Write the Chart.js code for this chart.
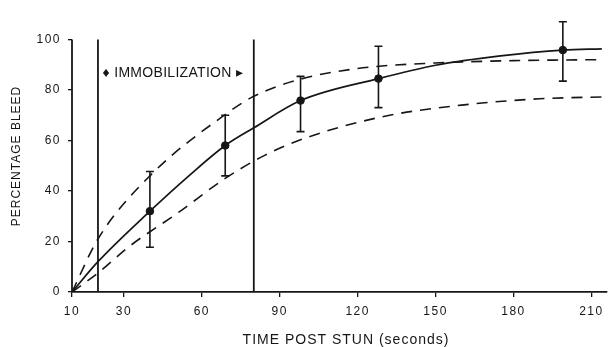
<!DOCTYPE html>
<html>
<head>
<meta charset="utf-8">
<script src="https://cdn.jsdelivr.net/npm/chart.js@4.4.1/dist/chart.umd.min.js"></script>
<style>
  html, body { margin: 0; padding: 0; background: #fff; }
  #wrap { width: 612px; height: 347px; }
</style>
</head>
<body>
<div id="wrap"><canvas id="bleedChart"></canvas></div>
<script>
const timeTicks = [10, 30, 60, 90, 120, 150, 180, 210];
const bleedTicks = [0, 20, 40, 60, 80, 100];

// measured points with their error bars
const sampleTimes = [40, 69, 98, 128, 199];
const sampleMean = [32, 58, 75.8, 84.5, 95.8];
const sampleLow = [17.7, 46, 63.5, 73, 83.5];
const sampleHigh = [47.7, 70, 85.4, 97.3, 107];

// fitted curve (solid)
const fitTimes = [10, 20, 40, 55, 69, 80, 98, 128, 150, 175, 199, 214];
const fitBleed = [0, 12, 32, 46, 58, 65, 75.8, 84.5, 89.8, 93.5, 95.8, 96.3];

// dashed bounds
const upperTimes = [10, 20, 40, 70, 80, 97, 120, 150, 180, 213];
const upperBleed = [0, 21, 46, 71, 77.5, 84, 88.5, 90.7, 91.6, 92];
const lowerTimes = [10, 20, 32, 51, 69, 84, 100, 130, 160, 190, 216];
const lowerBleed = [0, 7.5, 18, 31.5, 45, 54, 61, 69.5, 74, 76.5, 77.3];

// immobilization period (seconds)
const immobilization = [20, 80];
const immobilizationTop = 100;

const ink = "#161616";
const pts = (xs, ys) => xs.map((x, i) => ({ x: x, y: ys[i] }));

const errorBars = {
  id: "errorBars",
  afterDatasetsDraw(chart) {
    const { ctx, scales: { x, y } } = chart;
    ctx.save();
    ctx.strokeStyle = ink;
    ctx.lineWidth = 1.6;
    sampleTimes.forEach((t, i) => {
      const px = x.getPixelForValue(t);
      const lo = y.getPixelForValue(sampleLow[i]);
      const hi = y.getPixelForValue(sampleHigh[i]);
      ctx.beginPath();
      ctx.moveTo(px, lo);
      ctx.lineTo(px, hi);
      ctx.moveTo(px - 4, lo);
      ctx.lineTo(px + 4, lo);
      ctx.moveTo(px - 4, hi);
      ctx.lineTo(px + 4, hi);
      ctx.stroke();
    });
    ctx.restore();
  },
};

const axisAndText = {
  id: "axisAndText",
  beforeDraw(chart) {
    chart.ctx.letterSpacing = "1.5px";
  },
  afterDraw(chart) {
    const { ctx, chartArea, scales: { x, y } } = chart;
    ctx.save();
    // y axis line only up to 100
    ctx.strokeStyle = ink;
    ctx.lineWidth = 1.8;
    ctx.beginPath();
    ctx.moveTo(chartArea.left, y.getPixelForValue(0));
    ctx.lineTo(chartArea.left, y.getPixelForValue(100));
    ctx.stroke();

    ctx.fillStyle = ink;
    ctx.textAlign = "center";
    ctx.textBaseline = "middle";

    ctx.letterSpacing = "1px";
    ctx.font = "14px 'Liberation Sans', Arial, sans-serif";
    ctx.fillText("TIME POST STUN (seconds)", 346, 340);

    ctx.save();
    ctx.translate(17, 156);
    ctx.rotate(-Math.PI / 2);
    ctx.font = "12px 'Liberation Sans', Arial, sans-serif";
    ctx.fillText("PERCENTAGE BLEED", 0, 0);
    ctx.restore();

    ctx.letterSpacing = "0.3px";
    ctx.font = "14px 'Liberation Sans', Arial, sans-serif";
    const midX = (x.getPixelForValue(immobilization[0]) + x.getPixelForValue(immobilization[1])) / 2;
    ctx.fillText("\u2666 IMMOBILIZATION \u25B8", midX - 3, y.getPixelForValue(86.5));
    ctx.restore();
  },
};

new Chart(document.getElementById("bleedChart"), {
  type: "line",
  data: {
    datasets: [
      {
        data: pts(fitTimes, fitBleed),
        borderColor: ink,
        borderWidth: 1.7,
        pointRadius: 0,
        cubicInterpolationMode: "monotone",
      },
      {
        data: pts(upperTimes, upperBleed),
        borderColor: ink,
        borderWidth: 1.6,
        borderDash: [11, 8],
        pointRadius: 0,
        cubicInterpolationMode: "monotone",
      },
      {
        data: pts(lowerTimes, lowerBleed),
        borderColor: ink,
        borderWidth: 1.6,
        borderDash: [11, 8],
        pointRadius: 0,
        cubicInterpolationMode: "monotone",
      },
      {
        data: [{ x: immobilization[0], y: 0 }, { x: immobilization[0], y: immobilizationTop }],
        borderColor: ink,
        borderWidth: 1.8,
        pointRadius: 0,
      },
      {
        data: [{ x: immobilization[1], y: 0 }, { x: immobilization[1], y: immobilizationTop }],
        borderColor: ink,
        borderWidth: 1.8,
        pointRadius: 0,
      },
      {
        data: pts(sampleTimes, sampleMean),
        showLine: false,
        pointRadius: 3.8,
        pointBackgroundColor: ink,
        pointBorderColor: ink,
      },
    ],
  },
  options: {
    responsive: true,
    maintainAspectRatio: false,
    animation: false,
    layout: { padding: { top: 6, left: 0, right: 0, bottom: 0 } },
    plugins: {
      legend: { display: false },
      tooltip: { enabled: false },
    },
    scales: {
      x: {
        type: "linear",
        min: 10,
        max: 216,
        afterBuildTicks: (s) => { s.ticks = timeTicks.map((v) => ({ value: v })); },
        afterFit: (s) => { s.height = 55; },
        ticks: {
          color: ink,
          padding: 7,
          maxRotation: 0,
          autoSkip: false,
          font: { family: "'Liberation Sans', Arial, sans-serif", size: 12 },
        },
        grid: { drawOnChartArea: false, tickLength: 5, color: ink, lineWidth: 1.3 },
        border: { display: true, color: ink, width: 1.8 },
      },
      y: {
        min: 0,
        max: 110,
        afterBuildTicks: (s) => { s.ticks = bleedTicks.map((v) => ({ value: v })); },
        afterFit: (s) => { s.width = 72; },
        ticks: {
          color: ink,
          padding: 7,
          font: { family: "'Liberation Sans', Arial, sans-serif", size: 12 },
        },
        grid: { drawOnChartArea: false, tickLength: 4, color: ink, lineWidth: 1.3 },
        border: { display: false },
      },
    },
  },
  plugins: [errorBars, axisAndText],
});
</script>
</body>
</html>
